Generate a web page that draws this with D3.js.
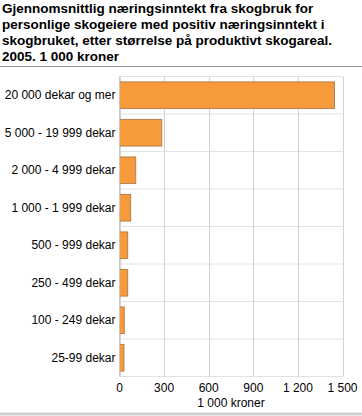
<!DOCTYPE html>
<html><head><meta charset="utf-8">
<script src="https://cdn.jsdelivr.net/npm/d3@7"></script>
<style>body{margin:0;background:#fff;}svg{display:block;font-family:"Liberation Sans",Arial,sans-serif;}</style>
</head><body>
<svg id="c" width="362" height="416"></svg>
<script>
const titleLines = ["Gjennomsnittlig næringsinntekt fra skogbruk for","personlige skogeiere med positiv næringsinntekt i","skogbruket, etter størrelse på produktivt skogareal.","2005. 1 000 kroner"];
const categories = ["20 000 dekar og mer","5 000 - 19 999 dekar","2 000 - 4 999 dekar","1 000 - 1 999 dekar","500 - 999 dekar","250 - 499 dekar","100 - 249 dekar","25-99 dekar"];
const values = [1446,284,109,75,55,55,32,30];
const xTicks = [0,300,600,900,1200,1500];
const xTickLabels = ["0","300","600","900","1 200","1 500"];
const axisTitle = "1 000 kroner";

(function(){
const svg = d3.select("#c");
const pL = 119.5, pR = 342.5, pT = 76.5, pB = 376.5;
const x = d3.scaleLinear().domain([0,1500]).range([pL,pR]);
const y = d3.scaleBand().domain(categories).range([pT,pB]).paddingInner(0.29).paddingOuter(0.145);

svg.append("g").selectAll("text").data(titleLines).join("text")
  .attr("x",2).attr("y",(d,i)=>12.5+i*16).attr("font-size",13.5).attr("font-weight","bold").attr("fill","#000").text(d=>d);
svg.append("line").attr("x1",0).attr("x2",362).attr("y1",66.5).attr("y2",66.5).attr("stroke","#999").attr("stroke-width",1);
svg.append("line").attr("x1",0).attr("x2",362).attr("y1",414).attr("y2",414).attr("stroke","#d0d0d0").attr("stroke-width",3);

const hb = d3.range(categories.length+1).map(i=>pT+i*(pB-pT)/categories.length);
svg.append("g").selectAll("line").data(hb).join("line")
  .attr("x1",pL).attr("x2",pR).attr("y1",d=>d).attr("y2",d=>d).attr("stroke","#e2e2e2");
svg.append("g").selectAll("line").data(xTicks).join("line")
  .attr("x1",d=>Math.round(x(d))+0.5).attr("x2",d=>Math.round(x(d))+0.5).attr("y1",pT).attr("y2",pB).attr("stroke","#d2d2d2");

svg.append("g").selectAll("rect").data(values).join("rect")
  .attr("x",x(0)).attr("y",(d,i)=>y(categories[i]))
  .attr("width",d=>x(d)-x(0)).attr("height",y.bandwidth())
  .attr("fill","#f79a3b").attr("stroke","#b8804f").attr("stroke-width",1);

svg.append("line").attr("x1",pL).attr("x2",pL).attr("y1",pT).attr("y2",pB).attr("stroke","#c8c8c8");

svg.append("g").selectAll("text").data(categories).join("text")
  .attr("x",pL-4).attr("y",d=>y(d)+y.bandwidth()/2).attr("dy","0.35em")
  .attr("text-anchor","end").attr("font-size",12).attr("fill","#000").text(d=>d);

svg.append("g").selectAll("text").data(xTicks).join("text")
  .attr("x",d=>x(d)).attr("y",392).attr("text-anchor","middle").attr("font-size",12).attr("fill","#000")
  .text((d,i)=>xTickLabels[i]);
svg.append("text").attr("x",(pL+pR)/2).attr("y",407).attr("text-anchor","middle").attr("font-size",12).attr("fill","#000").text(axisTitle);
})();
</script>
</body></html>
